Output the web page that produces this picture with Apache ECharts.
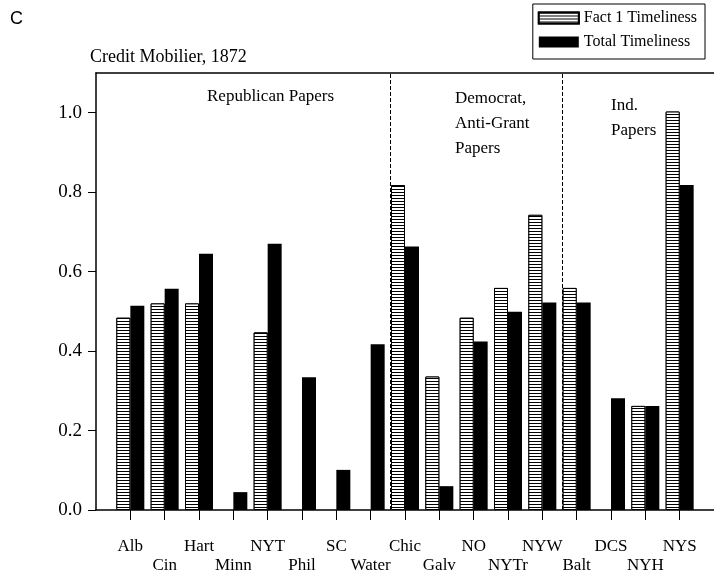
<!DOCTYPE html>
<html>
<head>
<meta charset="utf-8">
<script src="https://cdn.jsdelivr.net/npm/echarts@6/dist/echarts.min.js"></script>
<style>html,body{margin:0;padding:0;background:#fff;}#c{width:714px;height:574px;}</style>
</head>
<body>
<div id="c"></div>
<script>
// Newspapers (categories) and values
const papers = ['Alb','Cin','Hart','Minn','NYT','Phil','SC','Water','Chic','Galv','NO','NYTr','NYW','Balt','DCS','NYH','NYS'];
const fact1Timeliness = [0.484, 0.520, 0.520, 0, 0.447, 0, 0, 0, 0.818, 0.336, 0.484, 0.559, 0.743, 0.559, 0, 0.262, 1.003];
const totalTimeliness = [0.514, 0.557, 0.645, 0.045, 0.670, 0.334, 0.101, 0.417, 0.663, 0.060, 0.424, 0.499, 0.522, 0.522, 0.281, 0.262, 0.818];
const yTicks = [0, 0.2, 0.4, 0.6, 0.8, 1.0];
const groupDividers = [8.58, 13.58]; // between Water|Chic and NYW|Balt
const seriesNames = ['Fact 1 Timeliness', 'Total Timeliness'];

const serif = 'Liberation Serif';
const xPositions = papers.map((p, i) => i + 1);
const upperRow = xPositions.filter(v => v % 2 === 1);   // Alb, Hart, NYT, ...
const lowerRow = xPositions.filter(v => v % 2 === 0);   // Cin, Minn, Phil, ...
const toData = arr => arr.map((v, i) => [i + 1, v === 0 ? null : v]);
const nameAt = v => papers[Math.round(v) - 1] || '';

const labelBase = {fontFamily: serif, fontSize: 17, color: '#000', showMinLabel: true, showMaxLabel: true, formatter: nameAt};

const chart = echarts.init(document.getElementById('c'), null, {renderer: 'canvas'});
chart.setOption({
  animation: false,
  backgroundColor: '#fff',
  title: [
    {text: 'C', left: 10, top: 10, padding: 0,
     textStyle: {fontFamily: 'Liberation Sans', fontSize: 18, fontWeight: 'normal', color: '#000'}},
    {text: 'Credit Mobilier, 1872', left: 90, top: 48, padding: 0,
     textStyle: {fontFamily: serif, fontSize: 18, fontWeight: 'normal', color: '#000'}}
  ],
  legend: {
    orient: 'vertical', right: 9, top: 4,
    borderColor: '#000', borderWidth: 1, borderRadius: 0,
    padding: [6, 8, 9, 5], itemGap: 8, itemWidth: 40, itemHeight: 11,
    icon: 'rect',
    textStyle: {fontFamily: serif, fontSize: 16, color: '#000'},
    data: seriesNames
  },
  grid: {left: 96, right: 0, top: 73, bottom: 61},
  xAxis: [{
    type: 'value', min: 0, max: 18, interval: 1,
    axisLine: {show: true, onZero: false, lineStyle: {color: '#000', width: 1.5}},
    axisTick: {show: true, length: 10, customValues: xPositions, lineStyle: {color: '#000'}},
    axisLabel: Object.assign({customValues: upperRow, margin: 28}, labelBase),
    splitLine: {show: false}
  }, {
    type: 'value', position: 'top', min: 0, max: 18,
    axisLine: {show: true, onZero: false, lineStyle: {color: '#000', width: 1.5}},
    axisTick: {show: false}, axisLabel: {show: false}, splitLine: {show: false}
  }, {
    type: 'value', position: 'bottom', min: 0, max: 18, interval: 1,
    axisLine: {show: false}, axisTick: {show: false}, splitLine: {show: false},
    axisLabel: Object.assign({customValues: lowerRow, margin: 47}, labelBase)
  }],
  yAxis: {
    type: 'value', min: 0, max: 1.1, interval: 0.2,
    axisLine: {show: true, onZero: false, lineStyle: {color: '#000', width: 1.5}},
    axisTick: {show: true, length: 8, customValues: yTicks, lineStyle: {color: '#000'}},
    axisLabel: {customValues: yTicks, margin: 14, fontFamily: serif, fontSize: 19, color: '#000',
                formatter: v => v.toFixed(1)},
    splitLine: {show: false}
  },
  series: [{
    name: seriesNames[0], type: 'bar', barWidth: 14, barGap: '0%',
    data: toData(fact1Timeliness),
    itemStyle: {
      color: '#fff', borderColor: '#000', borderWidth: 1,
      decal: {symbol: 'rect', symbolSize: 1, dashArrayX: [1, 0], dashArrayY: [1, 2], color: '#000', backgroundColor: '#fff'}
    },
    z: 3
  }, {
    name: seriesNames[1], type: 'bar', barWidth: 14, barGap: '0%',
    data: toData(totalTimeliness),
    itemStyle: {color: '#000', borderColor: '#000', borderWidth: 0},
    z: 3
  }, {
    name: 'dividers', type: 'line', data: [], silent: true,
    markLine: {
      silent: true, symbol: ['none', 'none'], label: {show: false},
      lineStyle: {color: '#000', type: [4, 2], width: 1},
      data: groupDividers.map(x => ({xAxis: x}))
    },
    z: 2
  }],
  graphic: [
    {type: 'text', left: 207, top: 88, style: {text: 'Republican Papers', font: '17px "Liberation Serif"', fill: '#000'}},
    {type: 'text', left: 455, top: 86, style: {text: 'Democrat,\nAnti-Grant\nPapers', font: '17px "Liberation Serif"', fill: '#000', lineHeight: 25}},
    {type: 'text', left: 611, top: 93, style: {text: 'Ind.\nPapers', font: '17px "Liberation Serif"', fill: '#000', lineHeight: 25}}
  ]
});
</script>
</body>
</html>
